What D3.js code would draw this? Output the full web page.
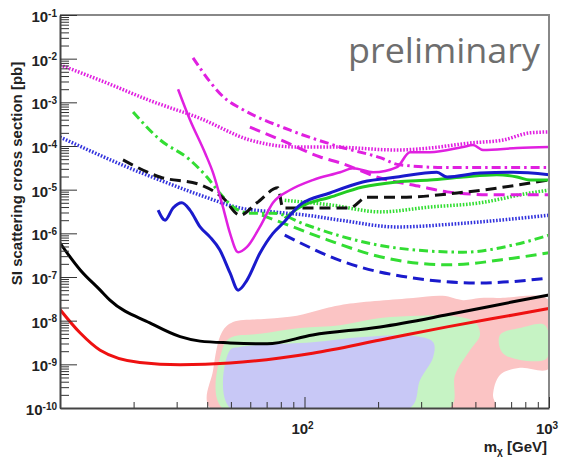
<!DOCTYPE html>
<html>
<head>
<meta charset="utf-8">
<script src="https://cdn.jsdelivr.net/npm/d3@7"></script>
<style>
  body { margin: 0; background: #fff; }
  svg { display: block; }
</style>
</head>
<body>
<div id="mainDiv"></div>
<script>
// curves: [mass in GeV, SI cross section in pb]
let redSolid = [[10, 1.8e-8], [12.1, 5.2e-9], [14.6, 2.1e-9], [21.2, 1.1e-9], [31, 9.8e-10], [49.6, 1.07e-9],
  [79.4, 1.4e-9], [108, 1.8e-9], [204, 3.6e-9], [383, 7.2e-9], [713, 1.35e-8], [1000, 1.9e-8]];
let blackSolid = [[10, 6.0e-7], [12.1, 1.45e-7], [14.6, 5e-8], [16, 2.95e-8], [23.3, 8.9e-9], [31, 4.3e-9],
  [37.4, 3.4e-9], [49.6, 3.1e-9], [70.3, 2.95e-9], [108, 4.7e-9], [204, 7.2e-9], [383, 1.36e-8], [713, 2.7e-8], [1000, 3.9e-8]];
let blueSolid = [[25.2, 3.4e-6], [26.9, 2.0e-6], [29, 3.8e-6], [31.5, 5.0e-6], [34, 3.4e-6], [37.4, 1.4e-6],
  [41, 8.3e-7], [45, 4.2e-7], [49.6, 1.24e-7], [53.5, 5.0e-8], [58.2, 8.5e-8], [65.7, 3.5e-7], [74.3, 1.0e-6],
  [81.6, 1.7e-6], [95.9, 4.5e-6], [127, 8.4e-6], [173, 1.5e-5], [239, 1.95e-5], [348, 2.5e-5], [383, 1.95e-5],
  [522, 2.4e-5], [713, 2.5e-5], [1000, 2.2e-5]];
let greenSolid = [[83, 2.2e-6], [96, 4.0e-6], [127, 6.7e-6], [173, 1.15e-5], [239, 1.5e-5], [326, 1.66e-5],
  [445, 1.95e-5], [612, 2.2e-5], [740, 1.95e-5], [836, 1.66e-5], [1000, 1.66e-5]];
let magentaSolid = [[30.4, 2.0e-3], [34, 4.0e-4], [39.2, 6.9e-5], [42.3, 2.4e-5], [46.4, 4.0e-6], [49.6, 1.0e-6],
  [53.5, 3.7e-7], [58.2, 4.9e-7], [65.7, 1.4e-6], [74.3, 5.0e-6], [87.3, 9.8e-6], [108, 1.66e-5], [140, 2.5e-5],
  [158, 3.1e-5], [191, 2.5e-5], [239, 3.3e-5], [270, 7.2e-5], [326, 7.2e-5], [445, 9.5e-5], [489, 1.05e-4],
  [537, 8.1e-5], [740, 9.0e-5], [1000, 9.5e-5]];
let magentaDotted = [[10, 7.2e-3], [14.6, 3.2e-3], [23.3, 1.1e-3], [37.4, 4.3e-4], [59.8, 1.37e-4], [93, 9.5e-5],
  [127, 9.5e-5], [239, 8.1e-5], [326, 9.0e-5], [475, 1.17e-4], [649, 1.37e-4], [836, 2.0e-4], [1000, 2.1e-4]];
let magentaDashDot = [[35, 1.04e-2], [48.2, 1.13e-3], [54.5, 7.4e-4], [87.3, 2.3e-4], [140, 9.5e-5], [204, 5.4e-5],
  [245, 3.7e-5], [393, 3.2e-5], [1000, 3.2e-5]];
let magentaDashed = [[59.8, 2.7e-4], [79.4, 1.4e-4], [116, 5.6e-5], [140, 4.1e-5], [204, 1.85e-5], [305, 1.15e-5],
  [383, 8.9e-6], [612, 7.6e-6], [1000, 7.6e-6]];
let blackDashed = [[18.1, 4.8e-5], [25.6, 1.95e-5], [37.4, 1.3e-5], [46.4, 6.5e-6], [54.5, 2.6e-6], [63.9, 5.0e-6],
  [77.9, 1.1e-5], [81.6, 3.8e-6], [102, 3.8e-6], [153, 3.8e-6], [180, 6.7e-6], [245, 6.7e-6], [462, 8.9e-6], [1000, 1.66e-5]];
let blueDotted = [[10, 1.6e-4], [13.6, 7.3e-5], [18.8, 3.3e-5], [25.6, 1.66e-5], [37.4, 7.5e-6], [54.5, 3.8e-6],
  [74.3, 3.1e-6], [102, 2.6e-6], [140, 2.0e-6], [239, 1.4e-6], [445, 1.7e-6], [1000, 2.6e-6]];
let greenDashDot = [[19.9, 6.0e-4], [25.6, 1.4e-4], [34, 4.8e-5], [39.9, 1.95e-5], [45, 8.4e-6], [51.1, 4.0e-6],
  [59.8, 2.9e-6], [74.3, 2.9e-6], [102, 1.55e-6], [140, 8.7e-7], [239, 4.6e-7], [445, 3.7e-7], [713, 5.4e-7], [1000, 9.1e-7]];
let greenDashed = [[67, 2.6e-6], [89.8, 1.4e-6], [124, 7.1e-7], [204, 2.9e-7], [383, 1.9e-7], [713, 2.7e-7], [1000, 3.6e-7]];
let blueDashed = [[83, 9.1e-7], [149, 2.1e-7], [278, 9.5e-8], [522, 7.3e-8], [1000, 9.5e-8]];
let greenDotted = [[83, 5.7e-6], [127, 4.5e-6], [204, 3.1e-6], [326, 4.0e-6], [522, 5.0e-6], [836, 8.4e-6], [1000, 9.8e-6]];

// scan regions (outlines)
let pinkRegion = [[41.1, 1e-10], [42.3, 7.4e-10], [46, 5.5e-9], [51, 9.3e-9], [70.3, 1.1e-8], [93.1, 1.3e-8],
  [119, 1.85e-8], [149, 2.4e-8], [278, 3.3e-8], [368, 3.7e-8], [445, 2.95e-8], [522, 3.3e-8], [630, 3.3e-8],
  [1000, 2.95e-8], [1000, 8e-10], [761, 8.3e-10], [630, 5.7e-10], [590, 2.0e-10], [601, 1e-10]];
let greenRegion = [[46, 1e-10], [46, 2.1e-9], [49.5, 4.0e-9], [65.7, 5.0e-9], [95.9, 6.8e-9], [140, 7.9e-9],
  [204, 1.15e-8], [297, 1.3e-8], [393, 1.3e-8], [498, 9.3e-9], [522, 4.7e-9], [475, 2.1e-9], [413, 5.7e-10], [393, 1e-10]];
let greenRegion2 = [[630, 4.7e-9], [761, 6.8e-9], [963, 7.9e-9], [982, 1.4e-9], [761, 1.26e-9], [642, 1.9e-9]];
let blueRegion = [[49.5, 1e-10], [49.5, 2.1e-9], [54.5, 2.5e-9], [67.6, 2.8e-9], [108, 3.2e-9], [173, 4.2e-9],
  [278, 4.5e-9], [336, 3.2e-9], [336, 1.48e-9], [297, 4.4e-10], [270, 1e-10]];

let yMajorTicks = [1e-10, 1e-9, 1e-8, 1e-7, 1e-6, 1e-5, 1e-4, 1e-3, 1e-2, 1e-1];
let xMajorTicks = [100, 1000];

const chartSize = { width: 561, height: 457, margin: { top: 15, right: 12, bottom: 49, left: 60 } };

const x = d3.scaleLog()
  .domain([10, 1000])
  .range([chartSize.margin.left, chartSize.width - chartSize.margin.right]);
const y = d3.scaleLog()
  .domain([1e-10, 1e-1])
  .range([chartSize.height - chartSize.margin.bottom, chartSize.margin.top]);

const svg = d3.select("#mainDiv")
  .append("svg")
  .attr("width", chartSize.width)
  .attr("height", chartSize.height)
  .attr("font-family", "Liberation Sans, Arial, sans-serif");

svg.append("clipPath").attr("id", "plotClip")
  .append("rect")
  .attr("x", x(10)).attr("y", y(1e-1))
  .attr("width", x(1000) - x(10)).attr("height", y(1e-10) - y(1e-1));

const plot = svg.append("g").attr("clip-path", "url(#plotClip)");

const area = d3.line().x(d => x(d[0])).y(d => y(d[1])).curve(d3.curveCatmullRomClosed.alpha(0.5));
const regions = [
  { data: pinkRegion, fill: "#fbc4c4" },
  { data: greenRegion, fill: "#c6f3c4" },
  { data: greenRegion2, fill: "#c6f3c4" },
  { data: blueRegion, fill: "#c8c8f6" }
];
plot.selectAll("path.region")
  .data(regions)
  .join("path")
  .attr("class", "region")
  .attr("d", d => area(d.data))
  .attr("fill", d => d.fill);

const dotted = "1.6,1.6", dashed = "11,6", dashDot = "9,4,2.5,4";
const series = [
  { data: magentaDotted, color: "#e020e0", width: 3.5, dash: dotted },
  { data: blueDotted, color: "#3333dd", width: 3.5, dash: dotted },
  { data: greenDotted, color: "#33dd33", width: 3.5, dash: dotted },
  { data: magentaDashDot, color: "#e020e0", width: 3, dash: dashDot },
  { data: greenDashDot, color: "#33dd33", width: 3, dash: dashDot },
  { data: magentaDashed, color: "#e020e0", width: 3, dash: dashed },
  { data: greenDashed, color: "#33dd33", width: 3, dash: dashed },
  { data: blueDashed, color: "#1a1acc", width: 3, dash: dashed },
  { data: blackDashed, color: "#111", width: 3, dash: dashed },
  { data: magentaSolid, color: "#e020e0", width: 2.5, dash: null },
  { data: greenSolid, color: "#22cc22", width: 3, dash: null },
  { data: blueSolid, color: "#1a1acc", width: 3, dash: null },
  { data: blackSolid, color: "#000", width: 3, dash: null },
  { data: redSolid, color: "#ee1111", width: 3, dash: null }
];

const line = d3.line().x(d => x(d[0])).y(d => y(d[1])).curve(d3.curveMonotoneX);
plot.selectAll("path.curve")
  .data(series)
  .join("path")
  .attr("class", "curve")
  .attr("d", d => line(d.data))
  .attr("fill", "none")
  .attr("stroke", d => d.color)
  .attr("stroke-width", d => d.width)
  .attr("stroke-dasharray", d => d.dash);

// frame
svg.append("path")
  .attr("d", `M${x(10)},${y(1e-1)}H${x(1000)}V${y(1e-10)}`)
  .attr("fill", "none").attr("stroke", "#888").attr("stroke-width", 2);

// minor + major ticks, pointing inward
let yMinorTicks = y.ticks().filter(v => !yMajorTicks.some(t => Math.abs(t - v) / t < 1e-6));
let xMinorTicks = x.ticks().filter(v => !xMajorTicks.includes(v) && v != 10);

svg.append("g")
  .attr("transform", `translate(${x(10)},0)`)
  .call(d3.axisLeft(y).tickValues(yMinorTicks).tickSize(-9).tickFormat(""))
  .call(g => g.select(".domain").remove());
svg.append("g")
  .attr("transform", `translate(${x(10)},0)`)
  .call(d3.axisLeft(y).tickValues(yMajorTicks).tickSize(-17).tickSizeOuter(0).tickFormat(""))
  .call(g => g.select(".domain").attr("stroke", "#444").attr("stroke-width", 2));

svg.append("g")
  .attr("transform", `translate(0,${y(1e-10)})`)
  .call(d3.axisBottom(x).tickValues(xMinorTicks).tickSize(-6).tickFormat(""))
  .call(g => g.select(".domain").remove());
svg.append("g")
  .attr("transform", `translate(0,${y(1e-10)})`)
  .call(d3.axisBottom(x).tickValues(xMajorTicks).tickSize(-11).tickSizeOuter(0).tickFormat(""))
  .call(g => g.select(".domain").attr("stroke", "#444").attr("stroke-width", 2));

svg.selectAll(".tick line").attr("stroke", "#333");

// tick labels with exponents
function powerLabel(t, v) {
  t.append("tspan").text("10");
  t.append("tspan").attr("dy", "-0.55em").attr("font-size", "10px").text(Math.round(Math.log10(v)));
}

svg.append("g")
  .selectAll("text")
  .data(yMajorTicks)
  .join("text")
  .attr("x", 57)
  .attr("y", d => y(d) + 7)
  .attr("text-anchor", "end")
  .attr("font-weight", "bold")
  .attr("font-size", "15px")
  .attr("fill", "#222")
  .each(function (d) { powerLabel(d3.select(this), d); });

svg.append("g")
  .selectAll("text")
  .data(xMajorTicks)
  .join("text")
  .attr("x", d => x(d) - 2)
  .attr("y", 434)
  .attr("text-anchor", "middle")
  .attr("font-weight", "bold")
  .attr("font-size", "15px")
  .attr("fill", "#222")
  .each(function (d) { powerLabel(d3.select(this), d); });

// axis titles
svg.append("text")
  .attr("transform", `translate(22,${(y(1e-1) + y(1e-10)) / 2 - 38}) rotate(-90)`)
  .attr("text-anchor", "middle")
  .attr("font-weight", "bold")
  .attr("font-size", "15px")
  .attr("fill", "#222")
  .text("SI scattering cross section [pb]");

const xTitle = svg.append("text")
  .attr("x", 547)
  .attr("y", 452)
  .attr("text-anchor", "end")
  .attr("font-weight", "bold")
  .attr("font-size", "15px")
  .attr("fill", "#222");
xTitle.append("tspan").text("m");
xTitle.append("tspan").attr("dy", "3").attr("font-size", "10px").text("χ");
xTitle.append("tspan").attr("dy", "-3").text(" [GeV]");

svg.append("text")
  .attr("x", 540)
  .attr("y", 63)
  .attr("text-anchor", "end")
  .attr("font-family", "Open Sans, sans-serif")
  .attr("font-size", "34px")
  .attr("textLength", 192)
  .attr("lengthAdjust", "spacingAndGlyphs")
  .attr("fill", "#6e6e6e")
  .text("preliminary");
</script>
</body>
</html>
